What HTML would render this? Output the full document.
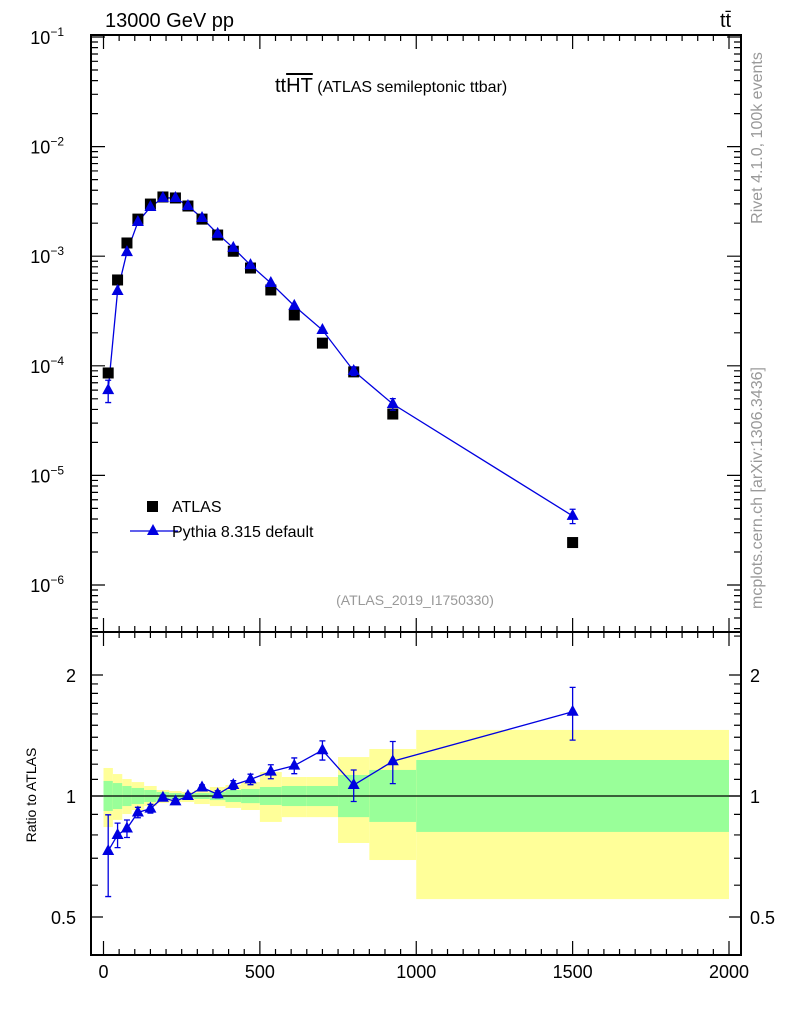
<!DOCTYPE html>
<html><head><meta charset="utf-8"><style>
html,body{margin:0;padding:0;background:#fff;}
svg{display:block;font-family:"Liberation Sans","DejaVu Sans",sans-serif;}
</style></head><body>
<svg id="chart" width="786" height="1024" viewBox="0 0 786 1024" xmlns="http://www.w3.org/2000/svg">
<g id="bands"></g>
<g id="marks"></g>
<g id="axes"></g>
<text x="105" y="27" font-size="20">13000 GeV pp</text>
<text x="720" y="27" font-size="20">tt̄</text>
<text x="275" y="92" font-size="20">tt<tspan text-decoration="overline">HT</tspan><tspan font-size="16"> (ATLAS semileptonic ttbar)</tspan></text>
<text x="415" y="605" font-size="14" fill="#999" text-anchor="middle">(ATLAS_2019_I1750330)</text>
<text transform="translate(762,138) rotate(-90)" font-size="16" fill="#999" text-anchor="middle">Rivet 4.1.0,  100k events</text>
<text transform="translate(762,488) rotate(-90)" font-size="16" fill="#999" text-anchor="middle">mcplots.cern.ch [arXiv:1306.3436]</text>
<text transform="translate(36,795) rotate(-90)" font-size="14" text-anchor="middle">Ratio to ATLAS</text>
<g>
<rect x="147" y="501" width="11" height="11" fill="#000"/>
<text x="172" y="512" font-size="16">ATLAS</text>
<line x1="130" y1="531" x2="178" y2="531" stroke="#0000e0" stroke-width="1.3"/>
<polygon points="153,524 159,535 147,535" fill="#0000e0"/>
<text x="172" y="537" font-size="16">Pythia 8.315 default</text>
</g>
</svg>
<script>
const binEdges=[0,30,60,90,130,170,210,250,290,340,390,440,500,570,650,750,850,1000,2000];
const atlasVals=[8.6e-5,6.07e-4,1.32e-3,2.18e-3,2.99e-3,3.47e-3,3.40e-3,2.87e-3,2.18e-3,1.56e-3,1.11e-3,7.8e-4,4.92e-4,2.91e-4,1.61e-4,8.8e-5,3.63e-5,2.44e-6];
const pythiaVals=[6.0e-5,4.81e-4,1.09e-3,2.05e-3,2.81e-3,3.40e-3,3.40e-3,2.87e-3,2.23e-3,1.60e-3,1.19e-3,8.3e-4,5.69e-4,3.52e-4,2.12e-4,8.97e-5,4.48e-5,4.27e-6];
const ratioVals=[0.73,0.80,0.83,0.91,0.93,0.99,0.97,1.0,1.05,1.01,1.065,1.10,1.15,1.19,1.30,1.065,1.22,1.62];
const ratioErr=[0.23,0.07,0.05,0.03,0.025,0.015,0.015,0.015,0.015,0.02,0.025,0.03,0.04,0.045,0.055,0.09,0.12,0.15];
const yellowHi=[1.174,1.134,1.102,1.083,1.059,1.035,1.029,1.023,1.035,1.053,1.065,1.083,1.147,1.115,1.115,1.25,1.309,1.46];
const yellowLo=[0.837,0.872,0.902,0.923,0.944,0.961,0.966,0.966,0.955,0.944,0.934,0.923,0.862,0.886,0.886,0.764,0.693,0.554];
const greenHi=[1.09,1.077,1.059,1.047,1.035,1.023,1.017,1.012,1.017,1.023,1.035,1.041,1.053,1.059,1.059,1.128,1.161,1.229];
const greenLo=[0.918,0.928,0.944,0.955,0.966,0.977,0.983,0.989,0.983,0.977,0.966,0.96,0.95,0.944,0.944,0.886,0.862,0.814];
const xTicks=[0,500,1000,1500,2000];
const ratioTicks=[0.5,1,2];

const NS="http://www.w3.org/2000/svg";
const L=91,R=741,T=35,M=632,B=955;
const X=v=>103.5+v*0.31275;
const Y=v=>37+(-1-Math.log10(v))*109.6;
const RY=r=>796-121*Math.log2(r);
function mk(parent,tag,attrs){const e=document.createElementNS(NS,tag);for(const k in attrs)e.setAttribute(k,attrs[k]);document.getElementById(parent).appendChild(e);return e;}
const BL="#0000e0";

for(let i=0;i<atlasVals.length;i++){
  const x0=X(binEdges[i]),x1=X(binEdges[i+1]);
  let e=mk('bands','rect',{x:x0,y:RY(yellowHi[i]),width:x1-x0,height:RY(yellowLo[i])-RY(yellowHi[i]),fill:'#ffff99'});
  
  
  e=mk('bands','rect',{x:x0,y:RY(greenHi[i]),width:x1-x0,height:RY(greenLo[i])-RY(greenHi[i]),fill:'#99ff99'});
  
  
}
let ln=mk('bands','line',{x1:L,x2:R,y1:RY(1),y2:RY(1),stroke:'#000','stroke-width':1.2});



const mids=binEdges.slice(0,-1).map((e,i)=>(e+binEdges[i+1])/2);
let pl=mk('marks','polyline',{points:mids.map((m,i)=>X(m)+','+Y(pythiaVals[i])).join(' '),fill:'none',stroke:BL,'stroke-width':1.3});


let rl=mk('marks','polyline',{points:mids.map((m,i)=>X(m)+','+RY(ratioVals[i])).join(' '),fill:'none',stroke:BL,'stroke-width':1.3});


function errbar(x,y1,y2,name){
  const p=mk('marks','path',{d:`M${x},${y1}V${y2}M${x-3},${y1}H${x+3}M${x-3},${y2}H${x+3}`,stroke:BL,'stroke-width':1.3,fill:'none'});
  
  
}
function tri(x,y,name){
  const p=mk('marks','polygon',{points:`${x},${y-7} ${x+6},${y+4} ${x-6},${y+4}`,fill:BL});
  
  
}
for(let i=0;i<mids.length;i++){
  const x=X(mids[i]);
  const s=mk('marks','rect',{x:x-5.5,y:Y(atlasVals[i])-5.5,width:11,height:11,fill:'#000'});
  
  
  const pv=pythiaVals[i],e=ratioErr[i];
  if(Y(pv*(1-e))-Y(pv*(1+e))>8) errbar(x,Y(pv*(1+e)),Y(pv*(1-e)),'pythia-error-bar');
  tri(x,Y(pv),'pythia-point');
  const r=ratioVals[i];
  errbar(x,RY(r*(1+e)),RY(r*(1-e)),'ratio-error-bar');
  tri(x,RY(r),'ratio-point');
}

function frame(y0,y1,name){const r=mk('axes','rect',{x:L,y:y0,width:R-L,height:y1-y0,fill:'none',stroke:'#000','stroke-width':2});}
frame(T,M,'main-frame');frame(M,B,'ratio-frame');
let d='';
for(let v=0;v<=2000;v+=50){const x=X(v),big=v%500===0,len=big?14:6;
  d+=`M${x},${B}v${-len}M${x},${M}v${len}M${x},${M}v${-len}M${x},${T}v${len}`;}
for(let e=-7;e<=-1;e++){for(let k=1;k<10;k++){const v=k*Math.pow(10,e),y=Y(v);if(y<T||y>M)continue;const len=k===1?14:7;
  d+=`M${L},${y}h${len}M${R},${y}h${-len}`;}}
const rt=[0.4,0.5,0.6,0.7,0.8,0.9,1,1.1,1.2,1.3,1.4,1.5,1.6,1.7,1.8,1.9,2,2.5];
rt.forEach(r=>{const y=RY(r);if(y<M||y>B)return;const len=ratioTicks.includes(r)?12:7;d+=`M${L},${y}h${len}M${R},${y}h${-len}`;});
let tp=mk('axes','path',{d:d,stroke:'#000','stroke-width':1.2,fill:'none'});


xTicks.forEach(v=>{const t=mk('axes','text',{x:X(v),y:978,'font-size':18,'text-anchor':'middle'});t.textContent=v;
  
  });
for(let e=-6;e<=-1;e++){const y=Y(Math.pow(10,e));const t=mk('axes','text',{x:64,y:y+7,'font-size':18,'text-anchor':'end'});
  t.innerHTML='10<tspan dy="-8" font-size="12">−'+(-e)+'</tspan>';
  
  }
ratioTicks.forEach(r=>{const y=RY(r)+7;
  let t=mk('axes','text',{x:76,y:y,'font-size':18,'text-anchor':'end'});t.textContent=r;
  
  
  t=mk('axes','text',{x:750,y:y,'font-size':18});t.textContent=r;
  
  });
</script>
</body></html>
